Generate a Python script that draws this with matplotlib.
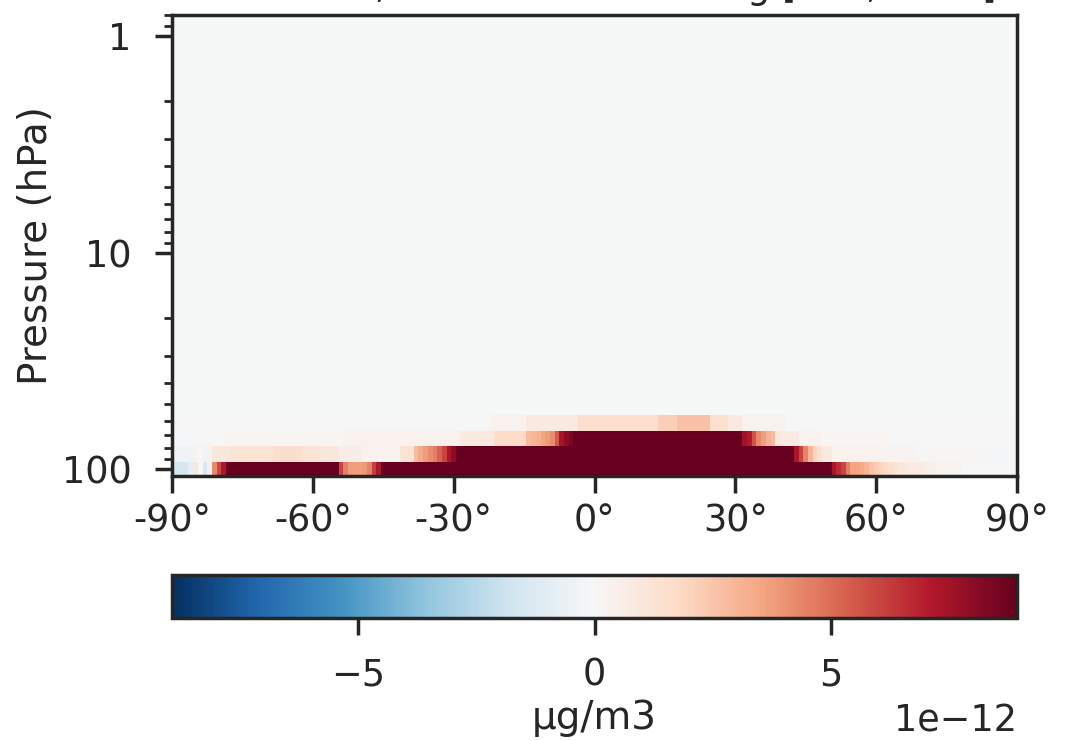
import numpy as np
import matplotlib
matplotlib.use("Agg")
import matplotlib.pyplot as plt
from matplotlib.ticker import FixedLocator, LogLocator, NullFormatter

# ==========================================================
# DATA (values in units of 1e-12 ug/m3)
# ==========================================================
lat_edges = np.arange(-90.5, 91.0, 1.0)

# pressure level edges, top -> bottom (hPa)
level_edges_hpa = [0.75, 1.3, 2.1, 3.3, 4.1, 5.1, 6.2, 8.5, 12.0, 17.0, 22.0,
                   28.0, 34.0, 40.0, 48.0, 56.3, 66.8, 78.3, 92.8, 112.0]

# nearly flat levels above 55 hPa, one value per level
upper_vals = [-0.06, -0.06, -0.06, -0.06, -0.06, -0.06, -0.06, -0.06, -0.06,
              -0.06, -0.06, -0.06, -0.06, -0.06, -0.06]

# lowest four levels, run-length coded as (n_lat_cells, value), south -> north
row_61 = [(68, 0.0), (8, 0.4), (11, 0.9), (17, 1.5), (4, 2.2), (7, 2.6),
          (4, 1.4), (3, 0.9), (9, 0.3), (50, 0.0)]

row_74 = [(5, -0.1), (7, 0.05), (25, 0.15), (25, 0.35), (7, 0.9), (7, 1.7),
          (1, 2.8), (1, 3.0), (1, 3.2), (1, 3.5), (1, 3.8), (1, 4.2),
          (1, 5.5), (1, 7.4), (1, 8.0), (1, 8.5),
          (36, 9.0),
          (1, 7.6), (1, 7.1), (1, 5.6), (1, 4.3), (1, 3.7), (1, 3.2), (1, 2.8), (1, 1.1),
          (4, 0.7), (5, 0.4), (14, 0.2), (28, 0.0)]

row_88 = [(5, -0.4), (1, 0.3), (1, 0.0), (1, -0.3), (1, 0.3),
          (4, 1.0), (9, 1.3), (6, 1.6), (4, 1.3), (4, 1.0), (5, 0.6), (8, 0.4),
          (3, 1.3),
          (1, 2.8), (1, 3.3), (1, 3.8), (1, 4.2), (1, 4.6), (1, 5.3), (1, 6.0), (1, 7.2), (1, 8.0),
          (72, 9.0),
          (1, 7.3), (1, 6.0), (1, 4.4), (1, 3.0), (1, 2.0), (1, 1.5), (1, 0.9), (1, 0.9),
          (10, 0.4), (8, 0.25), (14, 0.1), (8, -0.2)]

row_103 = [(4, -1.6), (1, -0.9), (1, 1.0), (1, 0.0), (1, -1.5), (1, -0.5),
           (1, 4.3), (1, 5.9), (1, 7.2),
           (24, 9.0),
           (1, 6.0), (1, 4.5), (1, 3.8), (1, 3.7), (1, 3.7), (1, 3.9), (1, 4.4),
           (1, 6.2), (1, 7.3),
           (96, 9.0),
           (1, 7.3), (1, 6.6), (1, 6.0), (1, 4.5), (1, 3.6), (1, 3.6), (1, 3.4),
           (1, 3.0), (1, 2.6), (1, 2.3), (1, 2.0), (1, 1.8), (1, 1.6), (1, 1.3),
           (1, 1.1), (1, 1.0), (1, 0.9), (1, 0.8), (1, 0.7), (1, 0.6), (1, 0.5),
           (1, 0.5), (6, 0.3), (12, 0.0)]

cbar_max = 8.93  # 1e-12
cbar_ticks = [-5, 0, 5]
xtick_vals = [-90, -60, -30, 0, 30, 60, 90]
xtick_labels = ["-90°", "-60°", "-30°", "0°", "30°", "60°", "90°"]
title = "SO4 mass, zonal mean diff. avg [100, 1000]"


def expand(segments):
    return np.concatenate([np.full(n, v, dtype=float) for n, v in segments])


# ==========================================================
# GRID
# ==========================================================
rows = [np.full(lat_edges.size - 1, v) for v in upper_vals]
rows += [expand(row_61), expand(row_74), expand(row_88), expand(row_103)]
field = np.vstack(rows) * 1e-12

# ==========================================================
# PLOT
# ==========================================================
ink = "#262626"
plt.rcParams.update({
    "font.family": "DejaVu Sans",
    "text.color": ink,
    "axes.labelcolor": ink,
    "axes.edgecolor": ink,
    "axes.linewidth": 1.25,
    "xtick.color": ink,
    "ytick.color": ink,
    "xtick.direction": "out",
    "ytick.direction": "out",
    "xtick.major.size": 6,
    "ytick.major.size": 6,
    "xtick.major.width": 1.25,
    "ytick.major.width": 1.25,
    "ytick.minor.size": 3,
    "ytick.minor.width": 1.0,
    "xtick.labelsize": 13.2,
    "ytick.labelsize": 13.2,
    "axes.labelsize": 14,
    "axes.titlesize": 13.2,
})

W, H = 1068, 741
fig = plt.figure(figsize=(W / 200, H / 200), dpi=200)

ax = fig.add_axes([172 / W, 1 - 476 / H, 845 / W, 461 / H])
mesh = ax.pcolormesh(lat_edges, level_edges_hpa, field, cmap="RdBu_r",
                     vmin=-cbar_max * 1e-12, vmax=cbar_max * 1e-12,
                     shading="flat")
ax.set_yscale("log")
ax.set_ylim(107.7, 0.8)
ax.set_xlim(-90, 90)
ax.yaxis.set_major_locator(FixedLocator([1, 10, 100]))
ax.set_yticklabels(["1", "10", "100"])
ax.yaxis.set_minor_locator(LogLocator(base=10, subs=np.arange(2, 10)))
ax.yaxis.set_minor_formatter(NullFormatter())
ax.tick_params(axis="y", which="major", pad=8.5)
ax.set_xticks(xtick_vals)
ax.set_xticklabels(xtick_labels)
ax.set_ylabel("Pressure (hPa)", labelpad=2.5)
ax.set_title(title)

cax = fig.add_axes([172 / W, 1 - 618 / H, 845 / W, 43 / H])
cb = fig.colorbar(mesh, cax=cax, orientation="horizontal")
cb.set_ticks([t * 1e-12 for t in cbar_ticks])
cb.set_label("µg/m3", fontsize=14, labelpad=2)
cb.outline.set_linewidth(1.25)
cb.ax.tick_params(labelsize=13.2, length=6, width=1.25, pad=8)
cb.ax.xaxis.get_offset_text().set_fontsize(13.2)

fig.savefig("out.png", dpi=200)
